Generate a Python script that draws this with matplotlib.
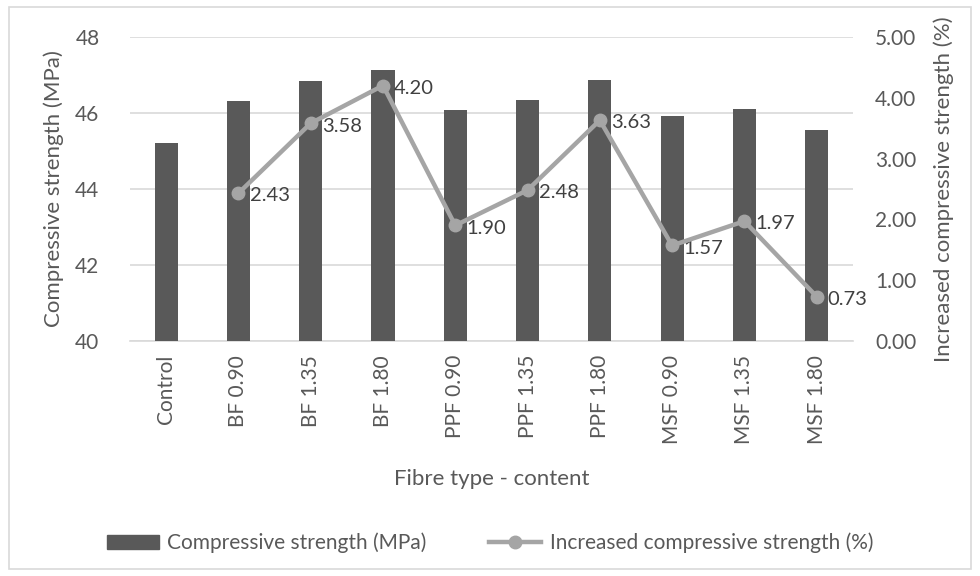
import matplotlib
matplotlib.use("Agg")
import matplotlib.pyplot as plt
import matplotlib.patches as mpatches
from matplotlib.lines import Line2D
import numpy as np

BAR_COLOR  = "#595959"
LINE_COLOR = "#A5A5A5"
TEXT_COLOR = "#595959"
GRID_COLOR = "#D9D9D9"
FONT       = "Lato"

categories = ["Control", "BF 0.90", "BF 1.35", "BF 1.80", "PPF 0.90",
              "PPF 1.35", "PPF 1.80", "MSF 0.90", "MSF 1.35", "MSF 1.80"]
strength_mpa = [45.22, 46.32, 46.84, 47.12, 46.08, 46.34, 46.86, 45.93, 46.11, 45.55]
increase_cats = categories[1:]
increase_pct = [2.43, 3.58, 4.20, 1.90, 2.48, 3.63, 1.57, 1.97, 0.73]

plt.rcParams.update({
    "font.family": FONT,
    "text.color": TEXT_COLOR,
    "axes.labelcolor": TEXT_COLOR,
    "xtick.color": TEXT_COLOR,
    "ytick.color": TEXT_COLOR,
})

fig = plt.figure(figsize=(9.8, 5.76), dpi=100)
ax = fig.add_axes([0.1327, 0.408, 0.7375, 0.528])
x = np.arange(len(categories))

ax.bar(x, strength_mpa, width=0.32, color=BAR_COLOR, zorder=3,
       label="Compressive strength (MPa)")
ax.set_ylim(40, 48)
ax.set_yticks([40, 42, 44, 46, 48])
ax.set_xlim(-0.5, len(categories) - 0.5)
ax.set_xticks(x)
ax.set_xticklabels(categories, rotation=90)
ax.tick_params(axis="both", length=0, labelsize=15)
ax.tick_params(axis="x", pad=10)
ax.tick_params(axis="y", pad=22)
ax.yaxis.grid(True, color=GRID_COLOR, linewidth=1.2, zorder=0)
for s in ["top", "right", "left"]:
    ax.spines[s].set_visible(False)
ax.spines["bottom"].set_color(GRID_COLOR)
ax.spines["bottom"].set_linewidth(1.2)
ax.set_ylabel("Compressive strength (MPa)", fontsize=16, labelpad=8)
ax.set_xlabel("Fibre type - content", fontsize=16, labelpad=18)

# line on secondary axis (no value for Control)
ax2 = ax.twinx()
xi = np.arange(1, len(categories))
ax2.plot(xi, increase_pct, color=LINE_COLOR, linewidth=3.2, marker="o",
         markersize=9, zorder=5)
for xv, v in zip(xi, increase_pct):
    ax2.annotate(f"{v:.2f}", xy=(xv, v), xytext=(8, -2), textcoords="offset points",
                 ha="left", va="center", fontsize=14.5, color="#404040")
ax2.set_ylim(0, 5)
ax2.set_yticks([0, 1, 2, 3, 4, 5])
ax2.set_yticklabels([f"{t:.2f}" for t in [0, 1, 2, 3, 4, 5]])
ax2.tick_params(axis="y", length=0, labelsize=15, pad=16)
for s in ["top", "right", "left", "bottom"]:
    ax2.spines[s].set_visible(False)
ax2.set_ylabel("Increased compressive strength (%)", fontsize=16, labelpad=12)

handles = [
    mpatches.Patch(color=BAR_COLOR, label="Compressive strength (MPa)"),
    Line2D([0], [0], color=LINE_COLOR, linewidth=3.2, marker="o", markersize=9,
           label="Increased compressive strength (%)"),
]
fig.legend(handles=handles, loc="center", bbox_to_anchor=(0.5, 0.057), ncol=2,
           frameon=False, fontsize=15, handlelength=2.5, columnspacing=3.0,
           handletextpad=0.4)

fig.add_artist(mpatches.Rectangle((0.009, 0.012), 0.982, 0.975, transform=fig.transFigure,
                                  fill=False, edgecolor=GRID_COLOR, linewidth=1.2))

plt.savefig("out.png", dpi=100)
plt.close()
